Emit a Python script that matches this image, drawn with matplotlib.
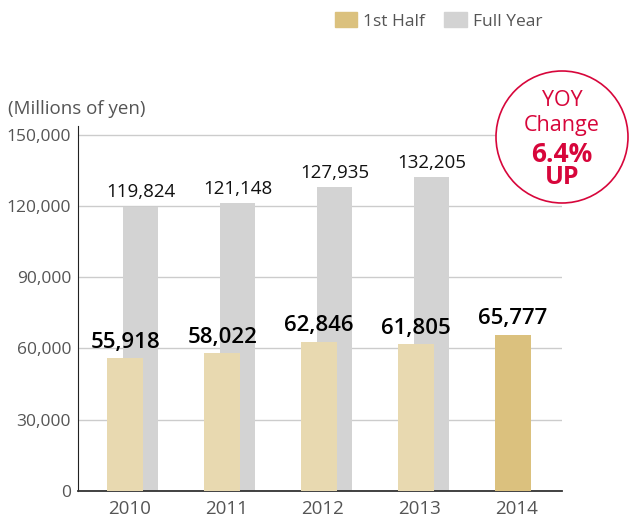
import matplotlib

matplotlib.use("Agg")
import matplotlib.pyplot as plt
from matplotlib.patches import Ellipse, Patch
import numpy as np

plt.rcParams["font.family"] = ["Open Sans", "DejaVu Sans"]

YEARS = ["2010", "2011", "2012", "2013", "2014"]
FIRST_HALF = [55918, 58022, 62846, 61805, 65777]
FULL_YEAR = [119824, 121148, 127935, 132205]
YTICKS = [0, 30000, 60000, 90000, 120000, 150000]

HALF_COLOR = "#e8d9b0"
HALF_LATEST = "#dbc17e"
FULL_COLOR = "#d3d3d3"
RED = "#d7063b"
GREY_TEXT = "#555555"

fig = plt.figure(figsize=(6.3, 5.19), dpi=100)
ax = fig.add_axes([78 / 630, 28.3 / 519, 484 / 630, 364.7 / 519])

x = np.arange(len(YEARS))
xf = np.arange(len(FULL_YEAR))
offset = 0.16

ax.bar(xf + offset, FULL_YEAR, width=0.36, color=FULL_COLOR, zorder=2)
colors = [HALF_COLOR] * (len(YEARS) - 1) + [HALF_LATEST]
ax.bar(x, FIRST_HALF, width=0.372, color=colors, zorder=3)

for i, v in enumerate(FULL_YEAR):
    ax.annotate(f"{v:,}", (i + offset, v), xytext=(0, 4), textcoords="offset points",
                ha="center", va="bottom", fontsize=13.5, color="#111111")
for i, v in enumerate(FIRST_HALF):
    ax.annotate(f"{v:,}", (i, v), xytext=(0, 4), textcoords="offset points",
                ha="center", va="bottom", fontsize=16, fontweight="semibold",
                color="#000000", zorder=5)

ax.set_xlim(-0.49, 4.51)
ax.set_ylim(0, 153800)
ax.set_yticks(YTICKS)
ax.set_yticklabels([f"{t:,}" for t in YTICKS], fontsize=12.5, color=GREY_TEXT)
ax.set_xticks(x + 0.04)
ax.set_xticklabels(YEARS, fontsize=13.5, color=GREY_TEXT)
ax.tick_params(axis="both", length=0)
ax.tick_params(axis="y", pad=5)
ax.tick_params(axis="x", pad=7)
ax.yaxis.grid(True, color="#cccccc", linewidth=1, zorder=0)
ax.set_axisbelow(True)
for side in ("top", "right"):
    ax.spines[side].set_visible(False)
ax.spines["left"].set_color("#222222")
ax.spines["bottom"].set_color("#333333")
ax.spines["bottom"].set_linewidth(1.3)

fig.text(8 / 630, 1 - 109 / 519, "(Millions of yen)", fontsize=13.5, color=GREY_TEXT,
         va="center", ha="left")

handles = [Patch(color=HALF_LATEST), Patch(color=FULL_COLOR)]
fig.legend(handles, ["1st Half", "Full Year"], loc="center right",
           bbox_to_anchor=(551 / 630, 1 - 21 / 519), ncol=2, frameon=False,
           fontsize=12.5, labelcolor=GREY_TEXT, handlelength=1.3, handleheight=0.9,
           handletextpad=0.35, columnspacing=1.1, borderpad=0)

cx, cy, r = 562, 137, 66
fig.add_artist(Ellipse((cx / 630, 1 - cy / 519), 2 * r / 630, 2 * r / 519,
                       transform=fig.transFigure, facecolor="white",
                       edgecolor=RED, linewidth=1.2, zorder=10))
fig.text(cx / 630, 1 - 101 / 519, "YOY", fontsize=15.5, color=RED,
         ha="center", va="center", zorder=11)
fig.text(cx / 630, 1 - 126 / 519, "Change", fontsize=15.5, color=RED,
         ha="center", va="center", zorder=11)
fig.text(cx / 630, 1 - 154 / 519, "6.4%", fontsize=19, color=RED,
         fontweight="bold", ha="center", va="center", zorder=11)
fig.text(cx / 630, 1 - 178 / 519, "UP", fontsize=18, color=RED,
         fontweight="bold", ha="center", va="center", zorder=11)

fig.savefig("out.png", dpi=100)
